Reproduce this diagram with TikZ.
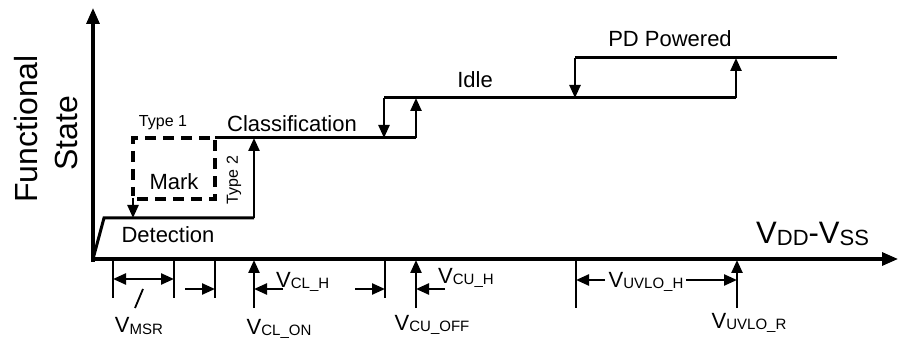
\documentclass[tikz,border=0pt]{standalone}
\usepackage{fontspec}
\setmainfont{Liberation Sans}
\usetikzlibrary{arrows.meta}
\newcommand{\fs}[1]{\fontsize{#1}{#1}\selectfont}
\newcommand{\Vsub}[1]{{\fs{22}V}\raisebox{-0.25ex}{\fs{15}#1}}
\begin{document}
\begin{tikzpicture}[x=1pt,y=-1pt,
  tip/.style={-{Triangle[length=13pt,width=11pt]}},
  axisline/.style={line width=3.2pt},
  lvl/.style={line width=3pt},
  vline/.style={line width=2.4pt},
  tick/.style={line width=2.2pt},
  lbl/.style={inner sep=0pt,font=\fs{22}},
  small/.style={inner sep=0pt,font=\fs{16}}]
\useasboundingbox (0,0) rectangle (900,339);
% axes
\coordinate (o) at (93,259);
\coordinate (ytop) at (93,8);
\coordinate (xend) at (898,259);
\draw[axisline,-{Triangle[length=16pt,width=13pt]}] (93,262) -- (ytop);
\draw[axisline,-{Triangle[length=16pt,width=13pt]}] (91,259) -- (xend);
% levels
\coordinate (d0) at (104,218);
\coordinate (d1) at (254,218);
\coordinate (c0) at (215,138);
\coordinate (c1) at (254,138);
\coordinate (c2) at (384,138);
\coordinate (c3) at (416,138);
\coordinate (i0) at (384,98);
\coordinate (i1) at (416,98);
\coordinate (i2) at (575,98);
\coordinate (i3) at (736,98);
\coordinate (p0) at (575,58);
\coordinate (p1) at (736,58);
\coordinate (p2) at (837,58);
\draw[lvl] (o) -- (d0) -- (d1);
\draw[vline,tip] (d1) -- (c1);
\draw[lvl] (c0) -- (c3);
\draw[vline,tip] (c3) -- (i1);
\draw[vline,tip] (i0) -- (c2);
\draw[lvl] (i0) -- (i3);
\draw[vline,tip] (i3) -- (p1);
\draw[vline,tip] (p0) -- (i2);
\draw[lvl] (p0) -- (p2);
% mark box
\coordinate (m0) at (133,218);
\draw[line width=3.2pt,dash pattern=on 11pt off 7pt] (137,199) -- (215,199) -- (c0) -- (133,138) -- (133,196);
\draw[vline,tip] (133,198) -- (m0);
% texts
\node[small] (t1) at (163,123) {Type 1};
\node[small,rotate=90] (t2) at (234,180) {Type 2};
\node[lbl] (cls) at (292,124) {Classification};
\node[lbl] (mark) at (174,182) {Mark};
\node[lbl] (det) at (168,235) {Detection};
\node[lbl] (idle) at (475,80) {Idle};
\node[lbl] (pdp) at (670,39) {PD Powered};
\node[inner sep=0pt,font=\fs{32},rotate=90] (fs1) at (26,129) {Functional};
\node[inner sep=0pt,font=\fs{32},rotate=90] (fs2) at (66,133) {State};
\node[inner sep=0pt,anchor=base west] (vds) at (756,244) {{\fs{31}V}\raisebox{-0.25ex}{\fs{22}DD}{\fs{31}-V}\raisebox{-0.25ex}{\fs{22}SS}};
% bottom ticks
\coordinate (k1) at (113,298);
\coordinate (k2) at (174,298);
\coordinate (k3) at (215,298);
\coordinate (k4) at (385,298);
\coordinate (k5) at (576,308);
\draw[tick] (113,259) -- (k1);
\draw[tick] (174,259) -- (k2);
\draw[tick] (215,259) -- (k3);
\draw[tick] (385,259) -- (k4);
\draw[tick] (576,259) -- (k5);
\coordinate (a1) at (254,308);
\coordinate (a2) at (416,308);
\coordinate (a3) at (737,308);
\draw[vline,tip] (a1) -- (254,260);
\draw[vline,tip] (a2) -- (416,260);
\draw[vline,tip] (a3) -- (737,260);
% dimension arrows
\draw[vline,{Triangle[length=13pt,width=11pt]}-{Triangle[length=13pt,width=11pt]}] (113,279) -- (174,279);
\draw[line width=1.8pt] (143,289) -- (135,308);
\draw[vline,tip] (185,289) -- (215,289);
\draw[vline,tip] (283,289) -- (254,289);
\draw[vline,tip] (355,289) -- (385,289);
\draw[vline,tip] (445,289) -- (416,289);
\draw[vline,tip] (605,280) -- (576,280);
\draw[vline,tip] (686,280) -- (737,280);
% bottom labels
\node[inner sep=0pt] (vmsr) at (139,326) {\Vsub{MSR}};
\node[inner sep=0pt,anchor=west] (vclh) at (276,282) {\Vsub{CL\_H}};
\node[inner sep=0pt] (vclon) at (279,329) {\Vsub{CL\_ON}};
\node[inner sep=0pt,anchor=west] (vcuh) at (438,278) {\Vsub{CU\_H}};
\node[inner sep=0pt] (vcuoff) at (432,325) {\Vsub{CU\_OFF}};
\node[inner sep=0pt] (vuvloh) at (646,282) {\Vsub{UVLO\_H}};
\node[inner sep=0pt] (vuvlor) at (749,323) {\Vsub{UVLO\_R}};
\end{tikzpicture}
\end{document}
